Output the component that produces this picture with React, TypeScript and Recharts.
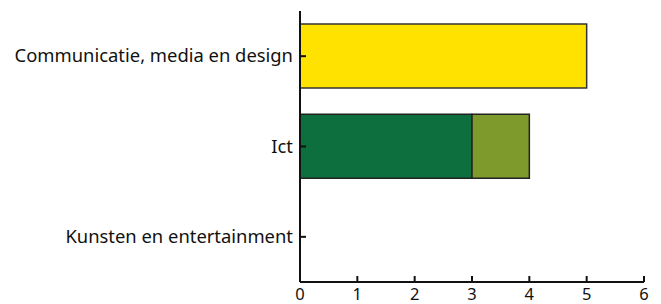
import { BarChart, Bar, XAxis, YAxis } from "recharts";

const categories = ["Communicatie, media en design", "Ict", "Kunsten en entertainment"];
const yellowValues = [5, null, null];
const darkGreenValues = [null, 3, null];
const oliveValues = [null, 1, null];
const xTicks = [0, 1, 2, 3, 4, 5, 6];

const data = categories.map((name, i) => ({
  name,
  yellow: yellowValues[i],
  darkGreen: darkGreenValues[i],
  olive: oliveValues[i],
}));

const FONT = "'Noto Sans', sans-serif";

const XTick = (props: any) => {
  const { x, y, payload } = props;
  return (
    <g>
      <line x1={x} x2={x} y1={y} y2={y - 6} stroke="#111" strokeWidth={2} />
      <text x={x} y={y + 18} textAnchor="middle" fill="#111" fontSize={16.5} fontFamily={FONT}>
        {payload.value}
      </text>
    </g>
  );
};

const YTick = (props: any) => {
  const { x, y, payload } = props;
  return (
    <g>
      <line x1={x} x2={x + 6} y1={y} y2={y} stroke="#111" strokeWidth={2} />
      <text x={x - 7} y={y + 6} textAnchor="end" fill="#111" fontSize={18.4} fontFamily={FONT}>
        {payload.value}
      </text>
    </g>
  );
};

export default function App() {
  return (
    <div style={{ position: "absolute", left: 0, top: 0, background: "#fff" }}>
      <BarChart
        width={661}
        height={304}
        data={data}
        layout="vertical"
        margin={{ top: 11, right: 17, bottom: 0, left: 0 }}
        barCategoryGap={13}
      >
        <XAxis
          type="number"
          domain={[0, 6]}
          ticks={xTicks}
          height={22}
          axisLine={{ stroke: "#111", strokeWidth: 2 }}
          tickLine={false}
          tickSize={0}
          tickMargin={0}
          tick={<XTick />}
          interval={0}
        />
        <YAxis
          type="category"
          dataKey="name"
          width={300}
          axisLine={{ stroke: "#111", strokeWidth: 2 }}
          tickLine={false}
          tickSize={0}
          tickMargin={0}
          tick={<YTick />}
          interval={0}
        />
        <Bar dataKey="yellow" stackId="a" fill="#FFE200" stroke="#333" strokeWidth={1.5} isAnimationActive={false} />
        <Bar dataKey="darkGreen" stackId="a" fill="#0E6F3E" stroke="#222" strokeWidth={1.5} isAnimationActive={false} />
        <Bar dataKey="olive" stackId="a" fill="#7F9A2C" stroke="#222" strokeWidth={1.5} isAnimationActive={false} />
      </BarChart>
    </div>
  );
}
